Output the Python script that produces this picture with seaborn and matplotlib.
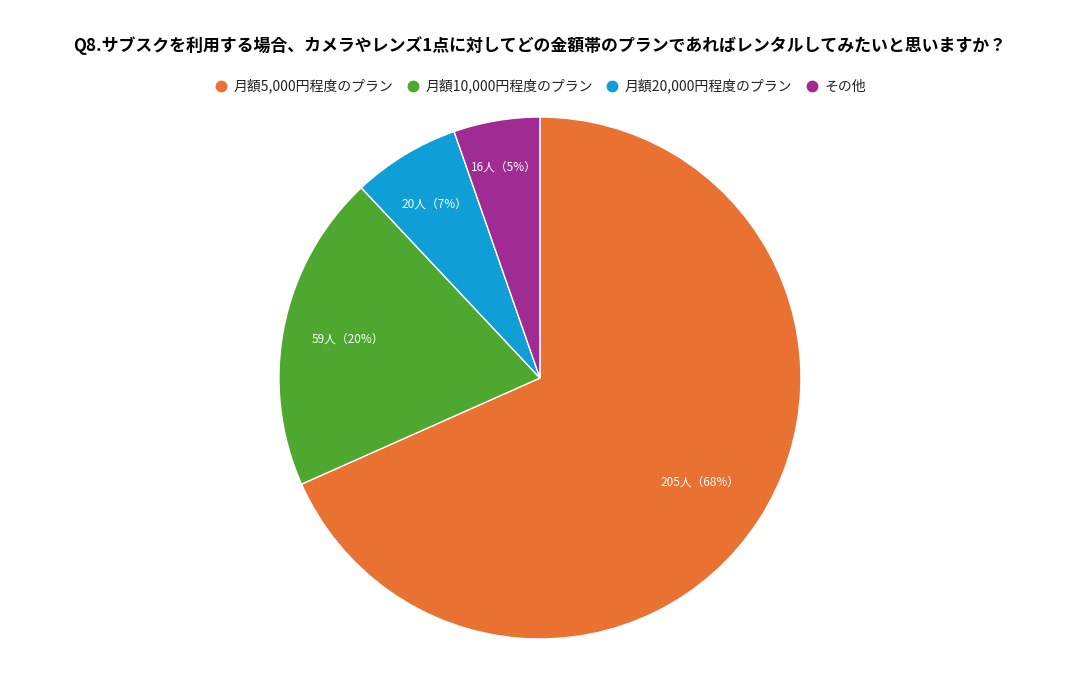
import matplotlib
matplotlib.use("Agg")
import matplotlib.pyplot as plt
from matplotlib.lines import Line2D
import numpy as np
import seaborn as sns

# survey answers (Q8)
categories = ["月額5,000円程度のプラン", "月額10,000円程度のプラン", "月額20,000円程度のプラン", "その他"]
counts = [205, 59, 20, 16]
percent_labels = ["68%", "20%", "7%", "5%"]
colors = ["#E97132", "#4EA72E", "#0F9ED5", "#A02B93"]

title = "Q8.サブスクを利用する場合、カメラやレンズ1点に対してどの金額帯のプランであればレンタルしてみたいと思いますか？"

# small slices get their label pushed a bit further out
label_dist = [0.73, 0.75, 0.78, 0.82]

sns.set_theme(style="white")
plt.rcParams['font.family'] = ['Noto Sans CJK JP', 'DejaVu Sans']

fig = plt.figure(figsize=(10.8, 6.74), dpi=100)
ax = fig.add_axes([0.2583, 0.0519, 0.4833, 0.7745])

palette = sns.color_palette(colors)
labels = [f"{c}人（{p}）" for c, p in zip(counts, percent_labels)]

wedges, texts = ax.pie(
    counts,
    colors=palette,
    startangle=90,
    counterclock=False,
    labels=labels,
    labeldistance=1.0,
    wedgeprops=dict(edgecolor="white", linewidth=1),
    textprops=dict(color="white", fontsize=8.5),
)
for w, t, d in zip(wedges, texts, label_dist):
    ang = np.deg2rad((w.theta1 + w.theta2) / 2)
    t.set_position((d * np.cos(ang), d * np.sin(ang)))
    t.set_horizontalalignment("center")
    t.set_verticalalignment("center")
ax.set_xlim(-1, 1)
ax.set_ylim(-1, 1)
ax.set_aspect("equal")

fig.text(0.5, 0.933, title, ha="center", va="center", fontsize=12.2, fontweight="bold", color="black")

handles = [Line2D([0], [0], marker="o", linestyle="", markersize=7.5,
                  markerfacecolor=col, markeredgecolor=col) for col in colors]
fig.legend(handles, categories, loc="center", bbox_to_anchor=(0.5, 0.872), ncol=4,
           frameon=False, fontsize=10, handlelength=1, handletextpad=0.4,
           columnspacing=0.9, labelcolor="#222222")

fig.savefig("out.png", dpi=100)
